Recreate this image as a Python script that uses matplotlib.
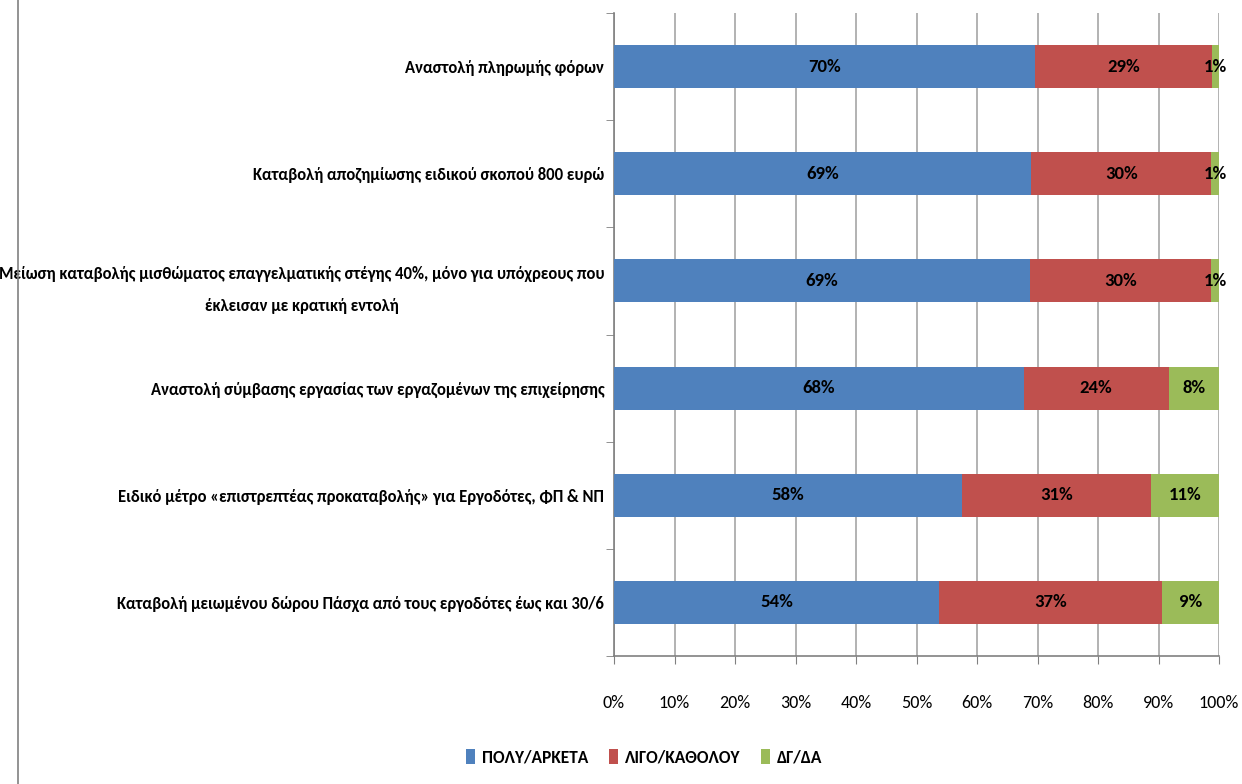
import matplotlib
matplotlib.use("Agg")
import matplotlib.pyplot as plt
import numpy as np
from matplotlib import font_manager

names = {f.name for f in font_manager.fontManager.ttflist}
FAM = [n for n in ["Carlito", "Liberation Sans", "DejaVu Sans"] if n in names]
plt.rcParams['font.family'] = FAM

categories = [
    "Αναστολή πληρωμής φόρων",
    "Καταβολή αποζημίωσης ειδικού σκοπού 800 ευρώ",
    "Μείωση καταβολής μισθώματος επαγγελματικής στέγης 40%, μόνο για υπόχρεους που\nέκλεισαν με κρατική εντολή",
    "Αναστολή σύμβασης εργασίας των εργαζομένων της επιχείρησης",
    "Ειδικό μέτρο «επιστρεπτέας προκαταβολής» για Εργοδότες, ΦΠ & ΝΠ",
    "Καταβολή μειωμένου δώρου Πάσχα από τους εργοδότες έως και 30/6",
]
poly = [69.6, 69.0, 68.8, 67.7, 57.6, 53.8]
ligo = [29.2, 29.7, 29.9, 24.0, 31.2, 36.8]
dgda = [1.2, 1.3, 1.3, 8.3, 11.2, 9.4]
series_names = ["ΠΟΛΥ/ΑΡΚΕΤΑ", "ΛΙΓΟ/ΚΑΘΟΛΟΥ", "ΔΓ/ΔΑ"]
colors = ["#4F81BD", "#C0504D", "#9BBB59"]
xticks = [0, 10, 20, 30, 40, 50, 60, 70, 80, 90, 100]

fig = plt.figure(figsize=(12.42, 7.84), dpi=100)
ax = fig.add_axes([614/1242, 1-656/784, (1219-614)/1242, (656-13)/784])

n = len(categories)
y = np.arange(n)
left = np.zeros(n)
for vals, name, col in zip([poly, ligo, dgda], series_names, colors):
    vals = np.array(vals)
    ax.barh(y, vals, left=left, height=0.4, color=col, label=name, zorder=3)
    for yi, l, v in zip(y, left, vals):
        ax.text(l + v/2, yi, f"{v:.0f}%", ha='center', va='center',
                fontsize=13.5, fontweight='bold', color='black', zorder=4)
    left = left + vals

ax.set_xlim(0, 100)
ax.set_ylim(n - 0.5, -0.5)
ax.set_xticks(xticks)
ax.set_xticklabels([f"{t}%" for t in xticks], fontsize=13)
ax.set_yticks(y)
ax.set_yticklabels(categories, fontsize=12, fontweight='bold', multialignment='center',
                   linespacing=2.2)
ax.set_yticks(np.arange(n + 1) - 0.5, minor=True)
ax.tick_params(axis='y', which='major', length=0, pad=7)
ax.tick_params(axis='y', which='minor', length=6, color='#808080')
ax.tick_params(axis='x', length=6, color='#808080', pad=22)
ax.grid(axis='x', color='#A6A6A6', linewidth=1.2, zorder=0)
for s in ['top', 'right']:
    ax.spines[s].set_visible(False)
for s in ['left', 'bottom']:
    ax.spines[s].set_color('#808080')
    ax.spines[s].set_linewidth(1.2)

fig.legend(loc='center', bbox_to_anchor=(644/1242, 1-757/784), ncol=3, frameon=False,
           prop={'size': 12.5, 'weight': 'bold'}, handlelength=0.5, handleheight=1.0,
           columnspacing=1.2, handletextpad=0.4)

fig.add_artist(plt.Line2D([18/1242, 18/1242], [0, 1], color='#808080', linewidth=1.2, zorder=10))

fig.savefig("out.png", dpi=100)
